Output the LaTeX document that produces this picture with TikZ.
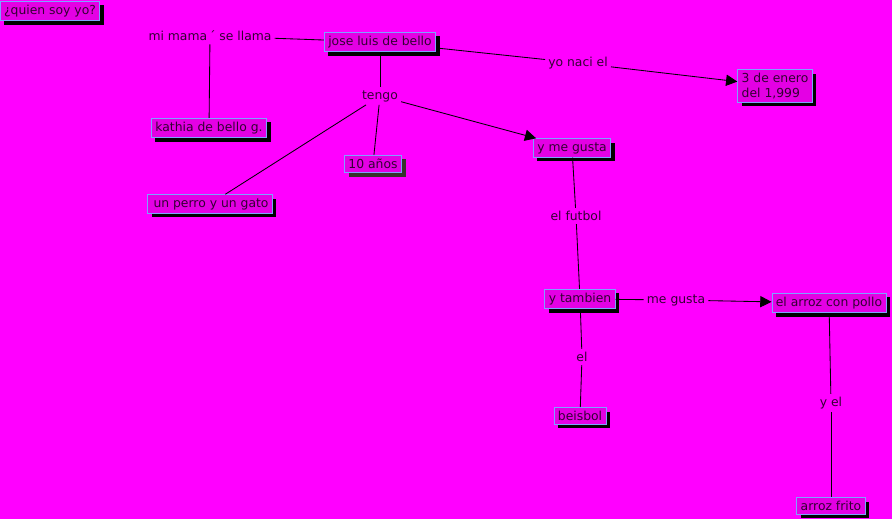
\documentclass[tikz,border=0pt]{standalone}
\usepackage{fontspec}
\setmainfont{DejaVu Sans}
\usetikzlibrary{shadows,arrows.meta}

\definecolor{fondo}{HTML}{FF00FF}
\definecolor{caja}{HTML}{E400E4}
\definecolor{borde}{HTML}{7FA0FF}
\definecolor{letra}{HTML}{330033}
\tikzset{every picture/.style={line width=0.6pt}}
\tikzset{
  concepto/.style={draw=borde, fill=caja, text=letra, inner xsep=2.8pt, inner ysep=2.6pt, align=left,
    drop shadow={shadow xshift=0.1cm, shadow yshift=-0.1cm, fill=black, opacity=1}},
  enlace/.style={text=letra, inner sep=2pt},
  flecha/.style={-{Triangle[length=8pt,width=8pt]}}
}

\begin{document}
\begin{tikzpicture}[x=0.025cm, y=-0.025cm, font=\fontsize{8.8}{10.4}\selectfont]
        \fill[fondo] (0,0) rectangle (892,519);
        \useasboundingbox (0,0) rectangle (892,519);
        % conceptos
        \node[concepto] (quien) at (50,11) {¿quien soy yo?};
        \node[concepto] (jose) at (380,42) {jose luis de bello};
        \node[concepto] (enero) at (775,86) {3 de enero\\del 1,999};
        \node[concepto] (kathia) at (209,128) {kathia de bello g.};
        \node[concepto, drop shadow={shadow xshift=0.1cm, shadow yshift=-0.1cm, fill=black!80!olive, opacity=1}] (anos) at (373,164) {10 años};
        \node[concepto] (perro) at (210,204) {\,un perro y un gato};
        \node[concepto] (gusta) at (572,148) {y me gusta};
        \node[concepto] (tambien) at (580,299) {y tambien};
        \node[concepto] (arroz) at (829,303) {el arroz con pollo};
        \node[concepto] (beisbol) at (580,416) {beisbol};
        \node[concepto] (frito) at (831,506) {arroz frito};
        % enlaces
        \node[enlace] (llama) at (210,36) {mi mama\,´ se llama};
        \node[enlace] (naci) at (578,63) {yo naci el};
        \node[enlace] (tengo) at (380,96) {tengo};
        \node[enlace] (futbol) at (576,216) {el futbol};
        \node[enlace] (megusta) at (676,300) {me gusta};
        \node[enlace] (el) at (582,357) {el};
        \node[enlace] (yel) at (831,403) {y el};
        % lineas
        \draw (llama) -- (jose);
        \draw (llama) -- (kathia);
        \draw (jose) -- (naci);
        \draw[flecha] (naci) -- (enero);
        \draw (jose) -- (tengo);
        \draw (tengo) -- (perro);
        \draw (tengo) -- (anos);
        \draw[flecha] (tengo) -- (gusta);
        \draw (gusta) -- (futbol);
        \draw (futbol) -- (tambien);
        \draw (tambien) -- (megusta);
        \draw[flecha] (megusta) -- (arroz);
        \draw (tambien) -- (el);
        \draw (el) -- (beisbol);
        \draw (arroz) -- (yel);
        \draw (yel) -- (frito);
    \end{tikzpicture}
\end{document}
